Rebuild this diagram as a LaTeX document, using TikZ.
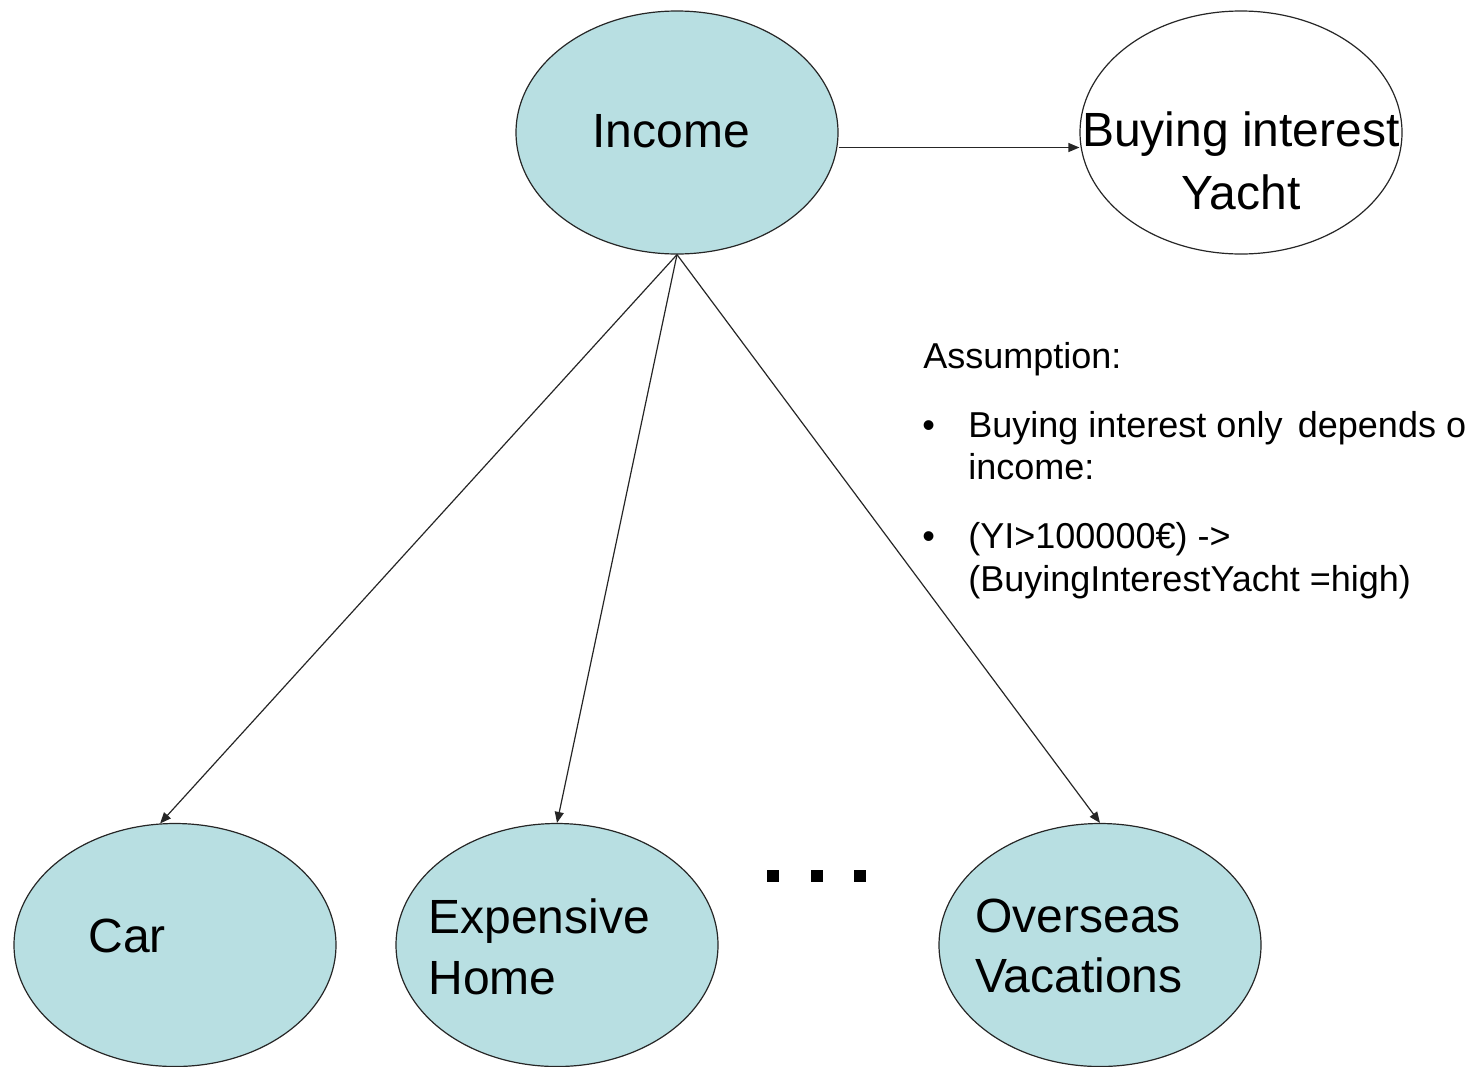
\documentclass[tikz,border=0pt]{standalone}
\usepackage{fontspec}
\setmainfont{Liberation Sans}
\usetikzlibrary{shapes.geometric,arrows.meta}
\definecolor{nodefill}{HTML}{B8DFE2}
\tikzset{
  ell/.style={ellipse, draw=black!85, line width=0.6pt, minimum width=161pt, minimum height=121.5pt, inner sep=0pt},
  filled/.style={ell, fill=nodefill},
  arr/.style={draw=black!85, line width=0.6pt, -{Triangle[length=5.5pt,width=4.5pt]}},
  big/.style={inner sep=0pt, font=\fontsize{24}{30}\selectfont},
  small/.style={inner sep=0pt, font=\fontsize{18}{21.5}\selectfont, anchor=base west},
  dotsq/.style={fill=black, minimum size=6pt, inner sep=0pt}
}
\begin{document}
\begin{tikzpicture}[x=0.5pt,y=-0.5pt]
\useasboundingbox (0,0) rectangle (1481,1066);
\clip (0,0) rectangle (1481,1066);
\node[filled] (income) at (677,132.5) {};
\node[ell, fill=white] (yacht) at (1241,132.5) {};
\node[filled] (car) at (175,945) {};
\node[filled] (home) at (557,945) {};
\node[filled] (overseas) at (1100,945) {};

\node[big, anchor=base] (tincome) at (671,147) {Income};
\node[big, anchor=base] (tyacht1) at (1241,146) {Buying interest};
\node[big, anchor=base] (tyacht2) at (1241,209) {Yacht};
\node[big, anchor=base west] (tcar) at (88,952) {Car};
\node[big, anchor=base west] (thome1) at (428,933) {Expensive};
\node[big, anchor=base west] (thome2) at (428,994) {Home};
\node[big, anchor=base west] (tover1) at (975,932) {Overseas};
\node[big, anchor=base west] (tover2) at (975,992) {Vacations};

\draw[arr] ([yshift=-7.5pt]income.east) -- ([yshift=-7.5pt]yacht.west);
\draw[arr] (income.south) -- (car.97);
\draw[arr] (income.south) -- (home.north);
\draw[arr] (income.south) -- (overseas.north);

\node[dotsq] (d1) at (773,876) {};
\node[dotsq] (d2) at (817,876) {};
\node[dotsq] (d3) at (860,876) {};

\node[small] (ass) at (923,368) {Assumption:};
\node[small] (b1) at (922,437) {\textbullet};
\node[small] (l1) at (968,437) {Buying interest only\hspace{0.15em} depends o};
\node[small] (l2) at (968,479) {income:};
\node[small] (b2) at (922,548) {\textbullet};
\node[small] (l3) at (968,548) {(YI>100000€) ->};
\node[small] (l4) at (968,591) {(BuyingInterestYacht =high)};
\end{tikzpicture}
\end{document}
